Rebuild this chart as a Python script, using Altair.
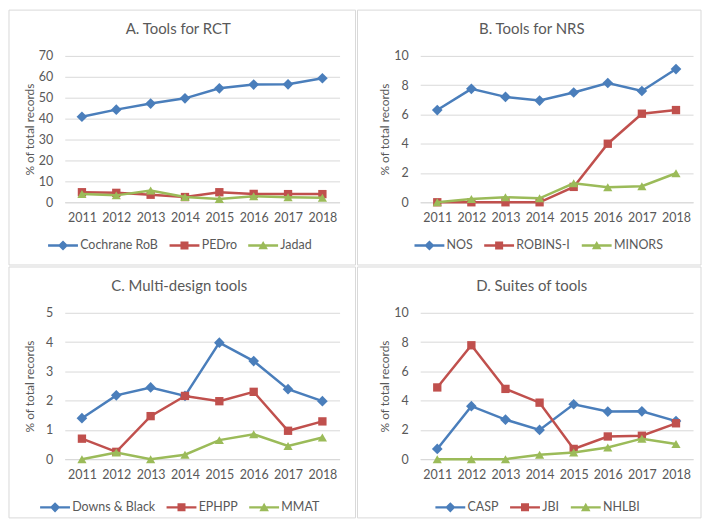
import altair as alt
import pandas as pd

years = ["2011", "2012", "2013", "2014", "2015", "2016", "2017", "2018"]

# Panel A. Tools for RCT
a_names = ["Cochrane RoB", "PEDro", "Jadad"]
a_cochrane = [40.9, 44.3, 47.2, 49.7, 54.5, 56.3, 56.4, 59.3]
a_pedro = [4.8, 4.5, 3.6, 2.5, 4.8, 4.0, 3.9, 3.9]
a_jadad = [4.0, 3.3, 5.6, 2.5, 1.6, 2.9, 2.4, 2.2]

# Panel B. Tools for NRS
b_names = ["NOS", "ROBINS-I", "MINORS"]
b_nos = [6.3, 7.75, 7.2, 6.95, 7.5, 8.15, 7.6, 9.1]
b_robins = [0.0, 0.0, 0.0, 0.0, 1.05, 4.0, 6.05, 6.3]
b_minors = [0.0, 0.23, 0.34, 0.27, 1.3, 1.03, 1.1, 1.98]

# Panel C. Multi-design tools
c_names = ["Downs & Black", "EPHPP", "MMAT"]
c_downs = [1.4, 2.18, 2.45, 2.16, 3.98, 3.35, 2.39, 1.98]
c_ephpp = [0.7, 0.25, 1.47, 2.16, 1.98, 2.3, 0.97, 1.29]
c_mmat = [0.0, 0.23, 0.0, 0.15, 0.65, 0.85, 0.45, 0.74]

# Panel D. Suites of tools
d_names = ["CASP", "JBI", "NHLBI"]
d_casp = [0.7, 3.62, 2.7, 2.0, 3.75, 3.25, 3.27, 2.6]
d_jbi = [4.9, 7.78, 4.8, 3.86, 0.7, 1.55, 1.6, 2.45]
d_nhlbi = [0.0, 0.0, 0.0, 0.3, 0.45, 0.8, 1.4, 1.04]

COLORS = ["#4A7EBB", "#C0504D", "#9BBB59"]
SHAPES = ["diamond", "square", "triangle-up"]
SIZES = [115, 70, 85]
LINE_PATH = "M-1,-0.2L4,-0.2L4,0.2L-1,0.2Z "
LEGEND_PATHS = [
    LINE_PATH + "M1.5,-0.85L2.35,0L1.5,0.85L0.65,0Z",
    LINE_PATH + "M0.83,-0.67L2.17,-0.67L2.17,0.67L0.83,0.67Z",
    LINE_PATH + "M1.5,-0.75L2.3,0.65L0.7,0.65Z",
]
GRAY = "#595959"
GRID = "#d9d9d9"
FONT = "Lato"
H = 147
TOP = 46


def panel(title, names, series, ymax, ystep, w, left, bottom, right,
          tdx, lx, ly, ytx):
    rows = []
    for n, vals in zip(names, series):
        for yr, v in zip(years, vals):
            rows.append({"year": yr, "series": n, "value": v})
    df = pd.DataFrame(rows)
    base = alt.Chart(df)

    x = alt.X(
        "year:O",
        title=None,
        axis=alt.Axis(
            labelAngle=0, ticks=False, tickSize=0, domain=True, domainColor=GRID,
            grid=False, labelPadding=9, labelFontSize=12.5, labelColor=GRAY, labelFont=FONT,
        ),
    )
    y = alt.Y(
        "value:Q",
        scale=alt.Scale(domain=[0, ymax], nice=False),
        axis=alt.Axis(
            values=list(range(0, ymax + 1, ystep)), grid=True, gridColor=GRID,
            domain=False, ticks=False, tickSize=0, labelPadding=12, labelFontSize=12.5,
            labelColor=GRAY, labelFont=FONT, title="% of total records", titleX=ytx,
            titleBaseline="middle", titleFontWeight="normal", titleFontSize=12,
            titleColor=GRAY, titleFont=FONT,
        ),
    )

    border = alt.Chart(pd.DataFrame({"k": [0]})).mark_rect(
        fillOpacity=0, stroke=GRID, strokeWidth=1
    ).encode(
        x=alt.value(-left), x2=alt.value(w + right),
        y=alt.value(-TOP), y2=alt.value(H + bottom),
    )

    layers = [border]
    for n, c, s, sz in zip(names, COLORS, SHAPES, SIZES):
        layers.append(
            base.transform_filter(alt.datum.series == n)
            .mark_line(
                color=c, strokeWidth=2.5,
                point=alt.OverlayMarkDef(shape=s, filled=True, size=sz, color=c, opacity=1),
            )
            .encode(x=x, y=y)
        )

    leg = alt.Legend(
        title=None, orient="none", legendX=lx, legendY=ly, direction="horizontal",
        symbolSize=144, symbolStrokeWidth=0, labelOffset=20, columnPadding=11,
        labelFont=FONT, labelFontSize=12.5, labelColor=GRAY, padding=0,
    )
    legend_layer = base.transform_filter("false").mark_point(filled=True, opacity=1).encode(
        x=x, y=y,
        color=alt.Color("series:N", scale=alt.Scale(domain=names, range=COLORS), legend=leg),
        shape=alt.Shape("series:N", scale=alt.Scale(domain=names, range=LEGEND_PATHS), legend=leg),
    )
    layers.append(legend_layer)

    return alt.layer(*layers).properties(
        width=w, height=H,
        title=alt.TitleParams(text=title, dx=tdx, offset=-28, anchor="middle", fontSize=15,
                              font=FONT, color=GRAY, fontWeight="normal"),
    )


pa = panel("A. Tools for RCT", a_names, [a_cochrane, a_pedro, a_jadad], 70, 10,
           276, 56, 63, 16, -24, -17, 184, -35)
pb = panel("B. Tools for NRS", b_names, [b_nos, b_robins, b_minors], 10, 2,
           274, 63, 63, 8, -25, -6, 184, -36)
pc = panel("C. Multi-design tools", c_names, [c_downs, c_ephpp, c_mmat], 5, 1,
           276, 56, 59, 16, -23, -25, 189, -35)
pd_ = panel("D. Suites of tools", d_names, [d_casp, d_jbi, d_nhlbi], 10, 2,
            274, 63, 59, 8, -25, 15, 189, -36)

row1 = alt.hconcat(pa, pb, spacing=0).resolve_scale(color="independent", shape="independent").resolve_legend(color="independent", shape="independent")
row2 = alt.hconcat(pc, pd_, spacing=0).resolve_scale(color="independent", shape="independent").resolve_legend(color="independent", shape="independent")

chart = alt.vconcat(row1, row2, spacing=0).resolve_scale(
    color="independent", shape="independent"
).resolve_legend(color="independent", shape="independent").properties(
    padding=0, background="white"
).configure_view(stroke="transparent")

chart.save("out.html", embed_options={"renderer": "svg", "actions": False})
